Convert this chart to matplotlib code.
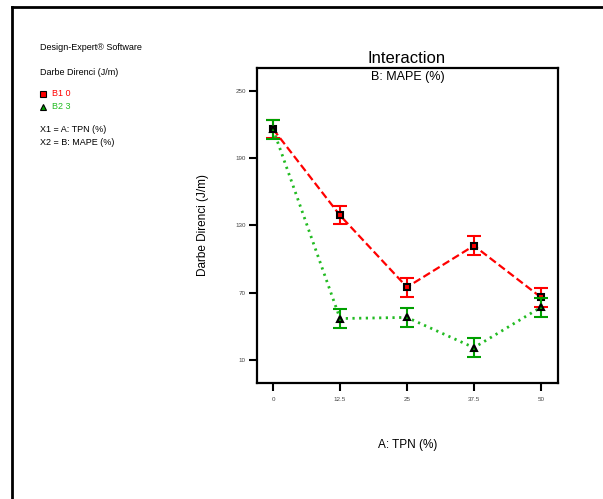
import matplotlib
matplotlib.use("Agg")
import matplotlib.pyplot as plt
from matplotlib.lines import Line2D

plt.rcParams['font.family'] = ['Liberation Sans', 'DejaVu Sans']

# factor levels and predicted means with LSD bars
tpn = [0, 12.5, 25, 37.5, 50]
mape0 = [216, 139, 75, 112, 66]
mape3 = [216, 47, 48, 21, 57]
err0 = [8, 8, 8.5, 8.5, 8.5]
err3 = [8.5, 8.5, 8.5, 8.5, 8.5]
yticks = [10, 70, 130, 190, 250]
xtick_labels = ["0", "12.5", "25", "37.5", "50"]

fig = plt.figure(figsize=(6.03, 4.99), dpi=100)
ax = fig.add_axes([0.4262, 0.2325, 0.4992, 0.6312])

red = "#ff0000"
green = "#00a000"

ax.errorbar(tpn, mape0, yerr=err0, color=red, ls=(0, (3.5, 1.6)), lw=1.6,
            marker="s", ms=5, mfc=red, mec="black", mew=1.5,
            ecolor=red, elinewidth=1.5, capsize=5, capthick=1.5, zorder=3)
ax.errorbar(tpn, mape3, yerr=err3, color="#22bb22", ls=(0, (0.8, 1.6)), lw=2,
            marker="^", ms=5, mfc=green, mec="black", mew=1.5,
            ecolor=green, elinewidth=1.5, capsize=5, capthick=1.5, zorder=4)

ax.set_xlim(-3, 53.2)
ax.set_ylim(-10.5, 270.5)
ax.set_xticks(tpn)
ax.set_xticklabels(xtick_labels)
ax.set_yticks(yticks)
ax.tick_params(axis="both", direction="out", length=6, width=1.5,
               labelsize=4.5, labelcolor="#444444", pad=2)
ax.tick_params(axis="x", pad=4)
for s in ax.spines.values():
    s.set_linewidth(1.6)

ax.text(0.5, 0.971, "B: MAPE (%)", fontsize=9, ha="center", va="center",
        transform=ax.transAxes)
fig.text(0.675, 0.883, "Interaction", fontsize=12, ha="center", va="center")
ax.set_ylabel("Darbe Direnci (J/m)", fontsize=8.5, labelpad=19)
ax.set_xlabel("A: TPN (%)", fontsize=8.5, labelpad=27)

# side panel text
fig.text(0.066, 0.904, "Design-Expert\u00ae Software", fontsize=6.5, va="center")
fig.text(0.066, 0.854, "Darbe Direnci (J/m)", fontsize=6.5, va="center")
fig.add_artist(Line2D([0.071], [0.812], marker="s", ms=4, mfc=red, mec="black",
                      mew=0.8, transform=fig.transFigure))
fig.text(0.086, 0.812, "B1 0", fontsize=6.5, color=red, va="center")
fig.add_artist(Line2D([0.071], [0.786], marker="^", ms=4, mfc=green, mec="black",
                      mew=0.8, transform=fig.transFigure))
fig.text(0.086, 0.786, "B2 3", fontsize=6.5, color="#22bb22", va="center")
fig.text(0.066, 0.740, "X1 = A: TPN (%)", fontsize=6.5, va="center")
fig.text(0.066, 0.714, "X2 = B: MAPE (%)", fontsize=6.5, va="center")

# outer frame, open on the right and bottom
fig.add_artist(Line2D([0.02, 0.02], [0.0, 0.986], color="black", lw=2,
                      transform=fig.transFigure))
fig.add_artist(Line2D([0.02, 1.0], [0.986, 0.986], color="black", lw=2,
                      transform=fig.transFigure))

fig.savefig("out.png", dpi=100)
